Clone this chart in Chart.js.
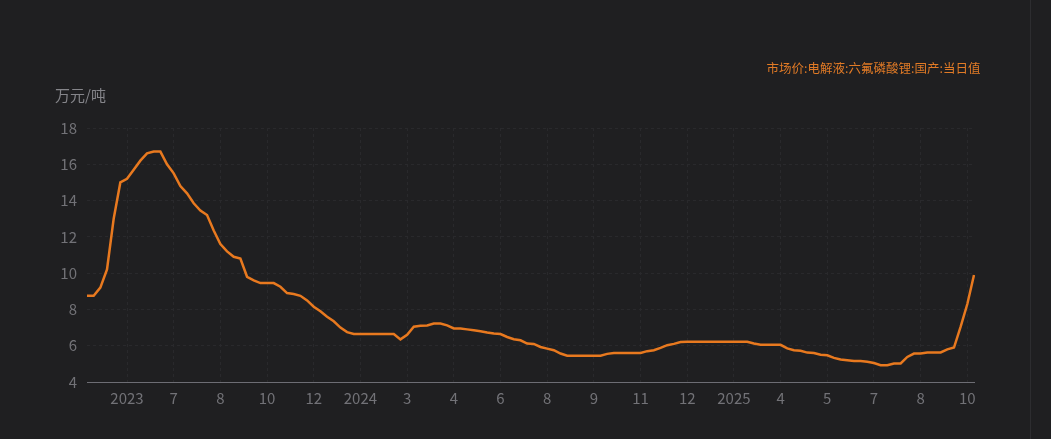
<!DOCTYPE html>
<html><head><meta charset="utf-8">
<script src="https://cdn.jsdelivr.net/npm/chart.js@4/dist/chart.umd.min.js"></script>
<style>
html,body{margin:0;padding:0;background:#1f1f21;}
#wrap{position:relative;width:1051px;height:439px;overflow:hidden;}
#sep{position:absolute;left:1030px;top:0;width:1px;height:439px;background:#2d2d30;}
canvas{position:absolute;left:0;top:0;}
</style></head><body>
<div id="wrap"><canvas id="c" width="1051" height="439" style="width:1051px;height:439px"></canvas><div id="sep"></div></div>
<script>
const seriesName = '市场价:电解液:六氟磷酸锂:国产:当日值';
const unitTitle = '万元/吨';
const startDate = '2023-03-24';
const priceValues = [
  8.75, 8.75, 9.2, 10.2, 13.0, 15.0, 15.2, 15.7, 16.2, 16.6,
  16.7, 16.7, 16.0, 15.5, 14.8, 14.4, 13.85, 13.45, 13.2, 12.35,
  11.6, 11.2, 10.9, 10.8, 9.8, 9.6, 9.45, 9.45, 9.45, 9.25,
  8.9, 8.85, 8.75, 8.5, 8.15, 7.9, 7.6, 7.35, 7.0, 6.75,
  6.65, 6.65, 6.65, 6.65, 6.65, 6.65, 6.65, 6.35, 6.6, 7.05,
  7.1, 7.12, 7.22, 7.22, 7.12, 6.95, 6.95, 6.9, 6.85, 6.8,
  6.73, 6.67, 6.64, 6.48, 6.36, 6.3, 6.12, 6.1, 5.93, 5.84,
  5.75, 5.57, 5.45, 5.45, 5.45, 5.45, 5.45, 5.45, 5.55, 5.6,
  5.6, 5.6, 5.6, 5.6, 5.7, 5.75, 5.88, 6.03, 6.1, 6.2,
  6.22, 6.22, 6.22, 6.22, 6.22, 6.22, 6.22, 6.22, 6.22, 6.22,
  6.12, 6.05, 6.05, 6.05, 6.05, 5.85, 5.75, 5.72, 5.62, 5.6,
  5.5, 5.47, 5.33, 5.24, 5.2, 5.16, 5.16, 5.12, 5.05, 4.93,
  4.93, 5.02, 5.02, 5.38, 5.57, 5.57, 5.62, 5.63, 5.63, 5.8,
  5.9, 7.05, 8.3, 9.9
];
const xTickIndex = [6, 13, 20, 27, 34, 41, 48, 55, 62, 69, 76, 83, 90, 97, 104, 111, 118, 125, 132];
const xTickLabels = ['2023', '7', '8', '10', '12', '2024', '3', '4', '6', '8', '9', '11', '12', '2025', '4', '5', '7', '8', '10'];
const yTicks = [4, 6, 8, 10, 12, 14, 16, 18];

// weekly category dates
const categories = [];
{
  const d0 = new Date(startDate + 'T00:00:00Z');
  for (let i = 0; i < priceValues.length; i++) {
    const d = new Date(d0.getTime() + i * 7 * 86400000);
    categories.push(d.toISOString().slice(0, 10));
  }
}
const tickMap = {};
xTickIndex.forEach((idx, k) => { tickMap[idx] = xTickLabels[k]; });

const FONT = '"Noto Sans CJK SC", "Noto Sans", sans-serif';
const ORANGE = '#e8791f';
const GRID = '#29292c';
const TICK = '#727277';

new Chart(document.getElementById('c'), {
  type: 'line',
  data: {
    labels: categories,
    datasets: [{
      label: seriesName,
      data: priceValues,
      borderColor: ORANGE,
      backgroundColor: ORANGE,
      borderWidth: 2.5,
      pointRadius: 0,
      tension: 0,
      fill: false
    }]
  },
  options: {
    responsive: false,
    animation: false,
    layout: { padding: { left: 55, right: 60.5, top: 51.75, bottom: 0 } },
    plugins: {
      legend: {
        display: true,
        position: 'top',
        align: 'end',
        weight: 1000,
        labels: {
          boxWidth: 0,
          boxHeight: 0,
          padding: 10,
          color: '#e07a26',
          font: { family: FONT, size: 12.5 }
        }
      },
      title: {
        display: true,
        text: unitTitle,
        position: 'top',
        align: 'start',
        weight: 500,
        color: '#85858a',
        font: { family: FONT, size: 15, weight: 'normal' },
        padding: { top: 2, bottom: 23.75 }
      },
      tooltip: { enabled: false }
    },
    scales: {
      x: {
        type: 'category',
        offset: false,
        afterFit: s => { s.height = 57; },
        grid: {
          drawTicks: false,
          color: c => (c.tick && tickMap[c.tick.value] !== undefined) ? GRID : 'transparent',
          lineWidth: 1
        },
        border: { display: true, color: '#6d6d74', width: 1, dash: [3, 3] },
        ticks: {
          autoSkip: false,
          maxRotation: 0,
          minRotation: 0,
          padding: 7,
          color: TICK,
          font: { family: FONT, size: 15 },
          callback: (v) => tickMap[v] !== undefined ? tickMap[v] : ''
        }
      },
      y: {
        type: 'linear',
        min: 4,
        max: 18,
        afterFit: s => { s.width = 32; },
        afterBuildTicks: s => { s.ticks = yTicks.map(v => ({ value: v })); },
        grid: { drawTicks: false, color: GRID, lineWidth: 1 },
        border: { display: false, dash: [3, 3] },
        ticks: {
          padding: 10,
          color: TICK,
          font: { family: FONT, size: 15 }
        }
      },
      yRight: {
        type: 'linear',
        position: 'right',
        min: 4,
        max: 18,
        afterFit: s => { s.width = 16.5; },
        grid: { display: false, drawTicks: false },
        border: { display: false },
        ticks: { display: false }
      }
    }
  }
});
</script>
</body></html>
